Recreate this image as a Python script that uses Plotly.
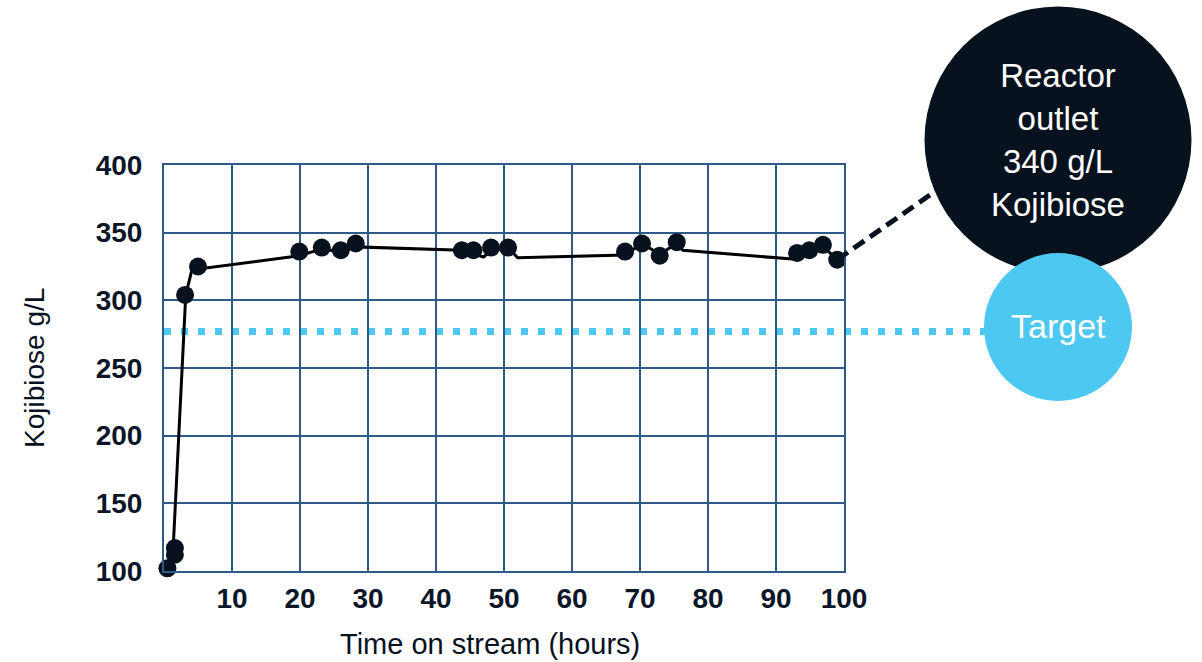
import plotly.graph_objects as go

# Measured kojibiose concentration (markers)
time_h = [0.5, 1.6, 1.6, 3.1, 5.0, 19.9, 23.2, 26.0, 28.2, 43.8, 45.5, 48.1, 50.6,
          67.8, 70.3, 72.9, 75.4, 93.1, 94.9, 96.9, 99.0]
kojibiose = [102, 117, 112, 304, 325, 336, 339, 337, 342, 337, 337, 339, 339,
             336, 342, 333, 343, 335, 337, 341, 330]

# Trend line through the run
trend_x = [1.3, 3.2, 4.1, 19.9, 23.2, 26.0, 28.2, 43.8, 47.0, 48.1, 50.6, 52.0,
           67.8, 70.3, 72.9, 75.4, 76.3, 92.4, 94.9, 96.9, 99.0]
trend_y = [112, 304, 322.5, 333, 338, 336, 339.5, 337, 332, 337, 339, 331.5,
           333.5, 342, 334, 342, 337, 330.5, 336, 340, 330]

target = 277
outlet_label = ["Reactor", "outlet", "340 g/L", "Kojibiose"]

x_ticks = [10, 20, 30, 40, 50, 60, 70, 80, 90, 100]
y_ticks = [100, 150, 200, 250, 300, 350, 400]
x_range = [0, 100]
y_range = [100, 400]

NAVY = "#08121F"
GRID = "#2E5A8A"
CYAN = "#4DC8F0"
FONT = "Liberation Sans, Arial, Helvetica"

fig = go.Figure()
fig.add_trace(go.Scatter(x=trend_x, y=trend_y, mode="lines",
                         line=dict(color="#000000", width=3), hoverinfo="skip"))
fig.add_trace(go.Scatter(x=time_h, y=kojibiose, mode="markers", cliponaxis=False,
                         marker=dict(color=NAVY, size=18)))

W, H = 1202, 662
L, R, T, B = 164, 844, 165, 571


def dx(px):
    return (px - L) / (R - L)


def dy(py):
    return (B - py) / (B - T)


# Target level: dotted line running out to its label bubble
ty = (target - y_range[0]) / (y_range[1] - y_range[0])
fig.add_shape(type="line", xref="x domain", yref="y domain",
              x0=0, x1=dx(990), y0=ty, y1=ty,
              line=dict(color=CYAN, width=7, dash="7px,10px"), layer="below")

# Connector from the last sample to the outlet bubble
lx = (time_h[-1] - x_range[0]) / (x_range[1] - x_range[0])
ly = (kojibiose[-1] - y_range[0]) / (y_range[1] - y_range[0])
fig.add_shape(type="line", xref="x domain", yref="y domain",
              x0=lx, y0=ly, x1=dx(940), y1=dy(188),
              line=dict(color=NAVY, width=5, dash="13px,7px"))

# Outlet bubble
fig.add_shape(type="circle", xref="x domain", yref="y domain",
              x0=dx(924.5), x1=dx(1191.5), y0=dy(273.5), y1=dy(6.5),
              fillcolor=NAVY, line=dict(width=0))
# Target bubble
fig.add_shape(type="circle", xref="x domain", yref="y domain",
              x0=dx(984), x1=dx(1132), y0=dy(401), y1=dy(253),
              fillcolor=CYAN, line=dict(width=0))

fig.add_annotation(xref="paper", yref="paper", x=dx(1058), y=dy(140),
                   xanchor="center", yanchor="middle",
                   text="<br>".join(outlet_label), showarrow=False,
                   font=dict(family=FONT, size=33, color="white"))
fig.add_annotation(xref="paper", yref="paper", x=dx(1058), y=dy(326),
                   xanchor="center", yanchor="middle",
                   text="Target", showarrow=False,
                   font=dict(family=FONT, size=34, color="white"))

# Axis titles
fig.add_annotation(xref="paper", yref="paper", x=dx(490), y=dy(644),
                   xanchor="center", yanchor="middle",
                   text="Time on stream (hours)", showarrow=False,
                   font=dict(family=FONT, size=29, color=NAVY))
fig.add_annotation(xref="paper", yref="paper", x=dx(34), y=dy(368),
                   xanchor="center", yanchor="middle",
                   text="Kojibiose g/L", showarrow=False, textangle=-90,
                   font=dict(family=FONT, size=28, color=NAVY))

axis_common = dict(showgrid=True, gridcolor=GRID, gridwidth=2,
                   showline=True, linecolor=GRID, linewidth=2, mirror=True,
                   zeroline=False, ticks="",
                   tickfont=dict(family=FONT, size=28, color="#0B1628", weight="bold"))

fig.update_xaxes(range=x_range, tickvals=[0] + x_ticks,
                 ticktext=[""] + [str(v) for v in x_ticks],
                 ticklabelstandoff=1, **axis_common)
fig.update_yaxes(range=y_range, tickvals=y_ticks,
                 ticktext=[str(v) for v in y_ticks],
                 ticklabelstandoff=14, **axis_common)

fig.update_layout(width=W, height=H, showlegend=False,
                  margin=dict(l=L, r=W - R, t=T, b=H - B),
                  plot_bgcolor="white", paper_bgcolor="white")

fig.write_html("out.html")
